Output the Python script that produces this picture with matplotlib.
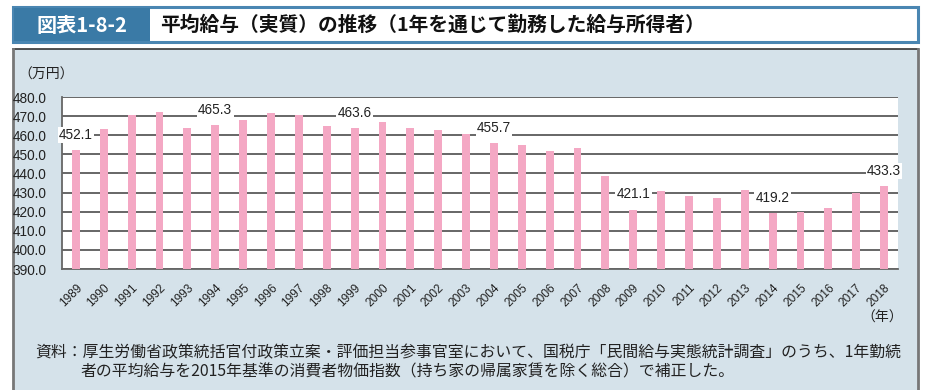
import matplotlib
matplotlib.use("Agg")
import matplotlib.pyplot as plt
from matplotlib.patches import Rectangle

plt.rcParams['font.family'] = ['Liberation Sans', 'Noto Sans CJK JP', 'DejaVu Sans']

years = [str(y) for y in range(1989, 2019)]
values = [452.1, 463.2, 470.6, 471.9, 463.7, 465.3, 467.9, 471.5, 470.5, 464.6,
          463.6, 467.0, 464.0, 462.8, 460.4, 455.7, 454.9, 451.5, 453.5, 438.7,
          421.1, 430.6, 428.3, 427.3, 431.5, 419.2, 420.0, 421.7, 429.7, 433.3]
labeled_years = ['1989', '1994', '1999', '2004', '2009', '2014', '2018']
yticks = [390, 400, 410, 420, 430, 440, 450, 460, 470, 480]

W, H = 926, 390
fig = plt.figure(figsize=(W / 100, H / 100), dpi=100)
fig.patch.set_facecolor('white')

def fx(x):
    return x / W

def fy(y):
    return 1 - y / H

def rect(x0, y0, x1, y1, **kw):
    r = Rectangle((fx(x0), fy(y1)), fx(x1) - fx(x0), fy(y0) - fy(y1),
                  transform=fig.transFigure, zorder=-5, **kw)
    fig.patches.append(r)

# header
rect(13, 7, 918, 42, facecolor='white', edgecolor='#4a86b2', linewidth=2.2)
rect(14, 8, 150, 41, facecolor='#3a7aa6', edgecolor='none')
fig.text(fx(82), fy(25), '図表1-8-2', color='white', fontsize=14.5, fontweight='bold',
         ha='center', va='center', family=['Noto Sans CJK JP', 'DejaVu Sans'])
fig.text(fx(160), fy(25), '平均給与（実質）の推移（1年を通じて勤務した給与所得者）',
         color='#111111', fontsize=14.2, fontweight='bold', ha='left', va='center',
         family=['Noto Sans CJK JP', 'DejaVu Sans'])

# body
rect(13, 49, 918, 392, facecolor='#d5e2ea', edgecolor='none')
fig.add_artist(plt.Line2D([fx(13), fx(918)], [fy(49), fy(49)], transform=fig.transFigure,
                          color='#333333', linewidth=1.2, zorder=-4))
fig.add_artist(plt.Line2D([fx(13), fx(13)], [fy(49), fy(392)], transform=fig.transFigure,
                          color='#777777', linewidth=2, zorder=-4))
fig.add_artist(plt.Line2D([fx(918), fx(918)], [fy(49), fy(392)], transform=fig.transFigure,
                          color='#777777', linewidth=2, zorder=-4))

ax = fig.add_axes([fx(62), fy(269), fx(898) - fx(62), fy(97) - fy(269)])
ax.set_zorder(2)
ax.set_facecolor('white')
x = list(range(len(years)))
ax.bar(x, [v - 390 for v in values], bottom=390, width=0.28, color='#f4a8c4', zorder=3)
ax.set_xlim(-0.5, len(years) - 0.5)
ax.set_ylim(390, 480)
ax.set_yticks(yticks)
ax.set_yticklabels([f'{t:.1f}' for t in yticks], fontsize=9.8, color='#222222')
for t in yticks:
    ax.axhline(t, color='#5a5a5a', linewidth=1.3, zorder=2)
ax.tick_params(axis='y', length=0, pad=11)
ax.set_xticks(x)
ax.set_xticklabels(years, rotation=45, ha='right', rotation_mode='anchor',
                   fontsize=8.6, color='#222222')
ax.tick_params(axis='x', length=0, pad=9)
for s in ['top', 'right']:
    ax.spines[s].set_visible(False)
ax.spines['left'].set_color('#666666')
ax.spines['left'].set_linewidth(1.3)
ax.spines['bottom'].set_color('#666666')
ax.spines['bottom'].set_linewidth(1.3)

for i, (yr, v) in enumerate(zip(years, values)):
    if yr in labeled_years:
        ax.annotate(f'{v:.1f}', (i, v), xytext=(0, 11), textcoords='offset points',
                    ha='center', va='center', fontsize=9.8, color='#222222', zorder=5,
                    bbox=dict(boxstyle='square,pad=0.1', facecolor='white', edgecolor='none'))

fig.text(fx(18), fy(75), '（万円）', fontsize=10, color='#222222', ha='left', va='center',
         family=['Noto Sans CJK JP', 'DejaVu Sans'])
fig.text(fx(903), fy(318), '（年）', fontsize=10, color='#222222', ha='right', va='center',
         family=['Noto Sans CJK JP', 'DejaVu Sans'])
fig.text(fx(35), fy(353),
         '資料：厚生労働省政策統括官付政策立案・評価担当参事官室において、国税庁「民間給与実態統計調査」のうち、1年勤続',
         fontsize=11.4, color='#222222', ha='left', va='center',
         family=['Noto Sans CJK JP', 'DejaVu Sans'])
fig.text(fx(80), fy(372),
         '者の平均給与を2015年基準の消費者物価指数（持ち家の帰属家賃を除く総合）で補正した。',
         fontsize=11.4, color='#222222', ha='left', va='center',
         family=['Noto Sans CJK JP', 'DejaVu Sans'])

fig.savefig('out.png', dpi=100, facecolor=fig.get_facecolor())
